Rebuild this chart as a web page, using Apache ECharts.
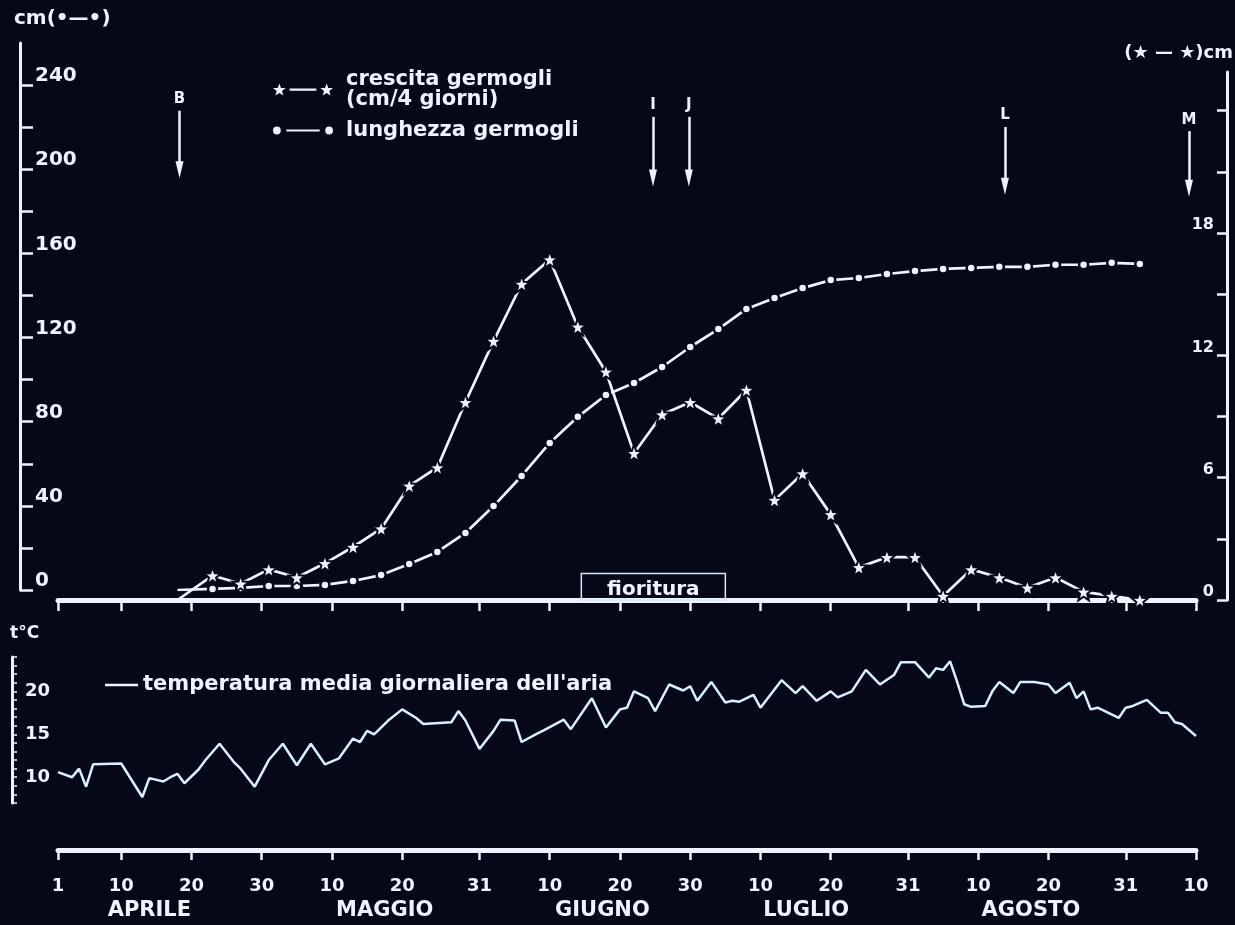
<!DOCTYPE html>
<html>
<head>
<meta charset="utf-8">
<script src="https://cdn.jsdelivr.net/npm/echarts@6/dist/echarts.min.js"></script>
<style>
  html, body { margin: 0; padding: 0; background: #050817; }
  #chart { width: 1235px; height: 925px; }
</style>
</head>
<body>
<div id="chart"></div>
<script>
// Days are counted from 1 April (day 0) to 10 September (day 162).

// Shoot measurements, taken every 4 days
const growthDays = [22, 26, 30, 34, 38, 42, 46, 50, 54, 58, 62, 66, 70, 74, 78, 82, 86,
  90, 94, 98, 102, 106, 110, 114, 118, 122, 126, 130, 134, 138, 142, 146, 150, 154];
// crescita germogli, cm / 4 giorni (right axis)
const shootGrowth = [1.2, 0.8, 1.5, 1.1, 1.8, 2.6, 3.5, 5.6, 6.5, 9.7, 12.7, 15.5, 16.7,
  13.4, 11.2, 7.2, 9.1, 9.7, 8.9, 10.3, 4.9, 6.2, 4.2, 1.6, 2.1, 2.1, 0.2, 1.5, 1.1, 0.6,
  1.1, 0.4, 0.2, 0.0];
// lunghezza germogli, cm (left axis)
const shootLength = [0.5, 1.0, 1.9, 1.9, 2.4, 4.3, 7.1, 12.4, 18.1, 27.1, 39.9, 54.2, 69.9,
  82.3, 92.7, 98.4, 106.0, 115.5, 124.0, 133.6, 138.8, 143.5, 147.3, 148.3, 150.2, 151.6,
  152.6, 153.1, 153.6, 153.6, 154.6, 154.6, 155.5, 155.0];
const budBreakDay = 17;

// Daily mean air temperature (°C), vertices of the trace
const tempDays = [0, 2, 3, 4, 5, 9, 12, 13, 15, 16, 17, 18, 20, 21, 23, 25, 26, 28, 30, 32,
  34, 36, 38, 40, 42, 43, 44, 45, 47, 49, 51, 52, 56, 57, 58, 60, 62, 63, 65, 66, 68, 69,
  72, 73, 76, 78, 80, 81, 82, 84, 85, 87, 89, 90, 91, 93, 95, 96, 97, 99, 100, 103, 105,
  106, 108, 110, 111, 113, 115, 117, 119, 120, 122, 124, 125, 126, 127, 128, 129, 130,
  132, 133, 134, 136, 137, 139, 141, 142, 144, 145, 146, 147, 148, 151, 152, 153, 155,
  157, 158, 159, 160, 162];
const tempValues = [10.6, 10.0, 11.0, 8.9, 11.5, 11.6, 7.7, 9.9, 9.5, 10.0, 10.4, 9.3, 10.9,
  12.0, 13.9, 11.8, 11.0, 8.9, 12.0, 13.9, 11.4, 13.9, 11.5, 12.2, 14.5, 14.1, 15.4, 15.0,
  16.6, 17.9, 16.9, 16.2, 16.4, 17.7, 16.6, 13.3, 15.4, 16.7, 16.6, 14.1, 15.0, 15.4, 16.7,
  15.6, 19.2, 15.8, 17.9, 18.1, 20.0, 19.2, 17.7, 20.8, 20.1, 20.6, 18.9, 21.1, 18.7, 18.9,
  18.8, 19.6, 18.1, 21.3, 19.8, 20.6, 18.9, 20.0, 19.3, 20.0, 22.5, 20.8, 21.9, 23.4, 23.4,
  21.6, 22.7, 22.5, 23.5, 21.1, 18.5, 18.2, 18.3, 20.0, 21.1, 19.8, 21.1, 21.1, 20.8, 19.8,
  21.0, 19.2, 20.0, 17.9, 18.1, 16.9, 18.1, 18.3, 19.0, 17.5, 17.5, 16.4, 16.2, 14.8];

// Date axis
const tickDays = [0, 9, 19, 29, 39, 49, 60, 70, 80, 90, 100, 110, 121, 131, 141, 152, 162];
const tickLabels = ['1', '10', '20', '30', '10', '20', '31', '10', '20', '30', '10', '20',
  '31', '10', '20', '31', '10'];
const monthNames = ['APRILE', 'MAGGIO', 'GIUGNO', 'LUGLIO', 'AGOSTO'];
const monthCentres = [13, 46.5, 77.5, 106.5, 138.5];

// Phenological stages and flowering
const stageNames = ['B', 'I', 'J', 'L', 'M'];
const stageDays = [17.3, 84.7, 89.8, 134.8, 161];
const floweringDays = [74.5, 95];

// Value axes
const lengthTicks = [0, 20, 40, 60, 80, 100, 120, 140, 160, 180, 200, 220, 240];
const lengthLabels = [0, 40, 80, 120, 160, 200, 240];
const growthTicks = [0, 3, 6, 9, 12, 15, 18, 21, 24];
const growthLabels = [0, 6, 12, 18];
const tempTicks = [7, 8, 9, 10, 11, 12, 13, 14, 15, 16, 17, 18, 19, 20, 21, 22, 23, 24];
const tempLabels = [10, 15, 20];

// ---- styling ----
const INK = '#eef3ff';
const BG = '#050817';
const FONT = "'DejaVu Sans', sans-serif";
const LEFT = 58, RIGHT = 39;

const STAR = 'path://M7 0.5L8.59 4.82L13.18 4.99L9.57 7.83L10.82 12.26L7 9.7L3.18 12.26L4.43 7.83L0.82 4.99L5.41 4.82Z';
const STAR_PAIR = 'path://M7 0.5L8.59 4.82L13.18 4.99L9.57 7.83L10.82 12.26L7 9.7L3.18 12.26L4.43 7.83L0.82 4.99L5.41 4.82Z' +
  'M53 0.5L54.59 4.82L59.18 4.99L55.57 7.83L56.82 12.26L53 9.7L49.18 12.26L50.43 7.83L46.82 4.99L51.41 4.82Z' +
  'M17 5.5L43 5.5L43 7.5L17 7.5Z';
const DOT_PAIR = 'path://M3 6.5A3.5 3.5 0 1 0 10 6.5A3.5 3.5 0 1 0 3 6.5Z' +
  'M50 6.5A3.5 3.5 0 1 0 57 6.5A3.5 3.5 0 1 0 50 6.5Z' +
  'M15 5.5L45 5.5L45 7.5L15 7.5Z';
const DASH = 'path://M0 0L32 0L32 2.4L0 2.4Z';

// vertical extent of each stage arrow, on the right-hand scale
const arrowSpan = { B: [24.0, 21.1], I: [23.7, 20.7], J: [23.7, 20.7], L: [23.2, 20.3], M: [23.0, 20.2] };

const text = (size, extra) => Object.assign({ color: INK, fontFamily: FONT, fontWeight: 'bold', fontSize: size }, extra || {});

const GROWTH_NAME = 'crescita germogli\n(cm/4 giorni)';
const LENGTH_NAME = 'lunghezza germogli';
const TEMP_NAME = "temperatura media giornaliera dell'aria";

const growthData = [{ value: [budBreakDay, 0], symbol: 'none' }]
  .concat(growthDays.map((d, i) => [d, shootGrowth[i]]));
const lengthData = [{ value: [budBreakDay, 0], symbol: 'none' }]
  .concat(growthDays.map((d, i) => [d, shootLength[i]]));
const tempData = tempDays.map((d, i) => [d, tempValues[i]]);

const gridBase = { left: LEFT, right: RIGHT, containLabel: false, outerBoundsMode: 'none' };

const chart = echarts.init(document.getElementById('chart'), null, { renderer: 'canvas' });

chart.setOption({
  backgroundColor: BG,
  animation: false,
  textStyle: { fontFamily: FONT },
  legend: [
    {
      left: 268, top: 64, orient: 'vertical', selectedMode: false,
      itemWidth: 60, itemHeight: 14, itemGap: 10,
      itemStyle: { color: INK, borderWidth: 0 },
      textStyle: text(21, { lineHeight: 20, padding: [0, 0, 0, 8] }),
      data: [{ name: GROWTH_NAME, icon: STAR_PAIR }, { name: LENGTH_NAME, icon: DOT_PAIR }]
    },
    {
      left: 100, top: 669, orient: 'vertical', selectedMode: false,
      itemWidth: 33, itemHeight: 14,
      itemStyle: { color: INK, borderWidth: 0 },
      textStyle: text(21, { lineHeight: 22 }),
      data: [{ name: TEMP_NAME, icon: DASH }]
    }
  ],
  grid: [
    Object.assign({ top: 43, bottom: 335 }, gridBase),   // shoot length
    Object.assign({ top: 72, bottom: 325 }, gridBase),   // shoot growth
    Object.assign({ top: 657, bottom: 122 }, gridBase)   // temperature
  ],
  xAxis: [
    { gridIndex: 0, type: 'value', min: 0, max: 162, show: false },
    {
      gridIndex: 1, type: 'value', min: 0, max: 162,
      splitLine: { show: false },
      axisLine: { show: true, onZero: false, lineStyle: { color: INK, width: 5 } },
      axisTick: { show: true, customValues: tickDays, length: 11, lineStyle: { color: INK, width: 2.5 } },
      axisLabel: { show: false }
    },
    {
      gridIndex: 2, type: 'value', min: 0, max: 162, position: 'bottom', offset: 47,
      splitLine: { show: false },
      axisLine: { show: true, onZero: false, lineStyle: { color: INK, width: 5 } },
      axisTick: { show: true, customValues: tickDays, length: 10, lineStyle: { color: INK, width: 2.5 } },
      axisLabel: text(18, {
        customValues: tickDays, margin: 27,
        formatter: v => tickLabels[tickDays.indexOf(v)]
      })
    },
    {
      gridIndex: 2, type: 'value', min: 0, max: 162, position: 'bottom', offset: 47,
      splitLine: { show: false },
      axisLine: { show: false, onZero: false }, axisTick: { show: false },
      axisLabel: text(21, {
        customValues: monthCentres, margin: 50,
        formatter: v => monthNames[monthCentres.indexOf(v)]
      })
    }
  ],
  yAxis: [
    {
      gridIndex: 0, type: 'value', position: 'left', offset: 38, min: 0, max: 260,
      splitLine: { show: false },
      axisLine: { show: true, onZero: false, lineStyle: { color: INK, width: 3 } },
      axisTick: { show: true, inside: true, customValues: lengthTicks, length: 13, lineStyle: { color: INK, width: 2.5 } },
      axisLabel: text(20, { inside: true, customValues: lengthLabels, margin: 15, verticalAlign: 'bottom', lineHeight: 18 }),
      name: 'cm(•—•)', nameLocation: 'end', nameGap: 14,
      nameTextStyle: text(20, { align: 'left', padding: [0, 0, 0, -6] })
    },
    {
      gridIndex: 1, type: 'value', position: 'right', offset: 31, min: 0, max: 25.9,
      splitLine: { show: false },
      axisLine: { show: true, onZero: false, lineStyle: { color: INK, width: 3 } },
      axisTick: { show: true, inside: true, customValues: growthTicks, length: 10, lineStyle: { color: INK, width: 2.5 } },
      axisLabel: text(16, { inside: true, customValues: growthLabels, margin: 13, verticalAlign: 'bottom', lineHeight: 16 }),
      name: '(★ — ★)cm', nameLocation: 'end', nameGap: 10,
      nameTextStyle: text(18, { align: 'right', padding: [0, -6, 0, 0] })
    },
    {
      gridIndex: 2, type: 'value', position: 'left', offset: 46, min: 7, max: 24,
      splitLine: { show: false },
      axisLine: { show: true, onZero: false, lineStyle: { color: INK, width: 3 } },
      axisTick: { show: true, inside: true, customValues: tempTicks, length: 5, lineStyle: { color: INK, width: 1.5 } },
      axisLabel: text(18, { inside: true, customValues: tempLabels, margin: 13 }),
      name: 't°C', nameLocation: 'end', nameGap: 15,
      nameTextStyle: text(17, { align: 'left', padding: [0, 0, 0, -2] })
    }
  ],
  series: [
    {
      name: GROWTH_NAME, type: 'line', xAxisIndex: 1, yAxisIndex: 1,
      data: growthData,
      symbol: STAR, symbolSize: 17,
      itemStyle: { color: INK, borderColor: BG, borderWidth: 2 },
      lineStyle: { color: INK, width: 2.7 },
      z: 4,
      markLine: {
        silent: true,
        symbol: ['none', 'triangle'],
        symbolSize: 12,
        lineStyle: { color: INK, width: 2.5, type: 'solid' },
        label: text(15, { show: true, position: 'start', formatter: '{b}', distance: 4 }),
        data: stageNames.map((s, i) => [
          { coord: [stageDays[i], arrowSpan[s][0]], name: s, symbol: 'none' },
          { coord: [stageDays[i], arrowSpan[s][1]], symbol: 'triangle', symbolSize: [8, 17] }
        ])
      },
      markArea: {
        silent: true,
        itemStyle: { color: 'rgba(0,0,0,0)', borderColor: '#d5e6ff', borderWidth: 1.5 },
        label: text(20, { show: true, position: 'inside', offset: [0, 3] }),
        data: [[
          { coord: [floweringDays[0], 0], name: 'fioritura' },
          { coord: [floweringDays[1], 1.3] }
        ]]
      }
    },
    {
      name: LENGTH_NAME, type: 'line', xAxisIndex: 0, yAxisIndex: 0,
      data: lengthData,
      symbol: 'circle', symbolSize: 9,
      itemStyle: { color: INK, borderColor: BG, borderWidth: 2.5 },
      lineStyle: { color: INK, width: 2.7 },
      z: 3
    },
    {
      name: TEMP_NAME, type: 'line', xAxisIndex: 2, yAxisIndex: 2,
      data: tempData,
      showSymbol: false, symbol: 'none',
      lineStyle: { color: '#d8efff', width: 2.5 },
      z: 3
    }
  ]
});
</script>
</body>
</html>
